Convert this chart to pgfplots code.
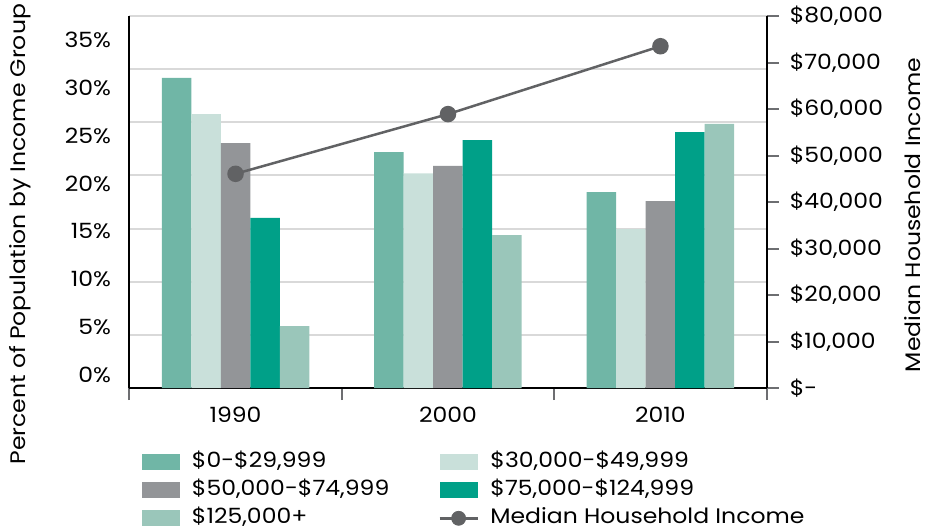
\documentclass[border=0pt]{standalone}
\usepackage{pgfplots}
\pgfplotsset{compat=1.18}
\usepackage{fontspec}
\setmainfont{Poppins}[FakeStretch=1.12]

\definecolor{cA}{HTML}{70B6A6}
\definecolor{cB}{HTML}{C9E0DA}
\definecolor{cC}{HTML}{939598}
\definecolor{cD}{HTML}{00A088}
\definecolor{cE}{HTML}{9AC6BA}
\definecolor{lineC}{HTML}{616264}
\definecolor{tickC}{HTML}{6D6E71}

\pgfplotsset{
  base/.style={width=318.7pt, height=186pt, scale only axis,
    xmin=-0.5, xmax=2.5, at={(0,0)}, anchor=south west},
  barleg/.style={legend image code/.code={\fill[##1] (0pt,-3.9pt) rectangle (19pt,3.9pt);}},
  lineleg/.style={legend image code/.code={%
    \draw[lineC, line width=1.25pt] (0pt,0pt) -- (19pt,0pt);
    \fill[lineC] (9.5pt,0pt) circle (3.5pt);}},
}

\begin{document}
\begin{tikzpicture}[font=\fontsize{10.5}{12}\selectfont]
\useasboundingbox (-64.65pt,-71.5pt) rectangle (399.35pt,194pt);

% bars, left axis (percent)
\begin{axis}[base,
  ymin=0, ymax=35,
  axis x line*=bottom, axis y line*=left,
  axis line style={black, line width=1pt},
  ybar=0pt, bar width=14.75pt,
  xtick={-0.5,0.5,1.5,2.5}, xticklabels={},
  tick align=outside, major tick length=6pt,
  xtick style={color=tickC, line width=1pt},
  extra x ticks={0,1,2}, extra x tick labels={1990,2000,2010},
  extra x tick style={major tick length=0pt},
  xticklabel style={yshift=-6pt},
  ytick={5,10,...,35}, yticklabels={},
  ytick style={draw=none},
  ymajorgrids, grid style={color=black!15, line width=1pt},
  extra y ticks={1.22,5.72,10.23,14.73,19.23,23.74,28.24,32.74},
  extra y tick labels={0\%,5\%,10\%,15\%,20\%,25\%,30\%,35\%},
  extra y tick style={grid=none, major tick length=0pt},
  yticklabel style={xshift=-5.6pt},
  legend columns=2,
  legend cell align=left,
  legend style={draw=none, fill=none, at={(0.0199,-0.161)}, anchor=north west,
    inner sep=0pt, row sep=0pt,
    nodes={inner sep=1.75pt, text height=8pt, text depth=2.5pt},
    /tikz/every odd column/.append style={column sep=4pt}},
]
\addplot[barleg, fill=cA, draw=none] coordinates {(0,29.17) (1,22.20) (2,18.44)};
\addlegendentry{\makebox[121.5pt][l]{\$0-\$29,999}}
\addplot[barleg, fill=cB, draw=none] coordinates {(0,25.78) (1,20.20) (2,14.96)};
\addlegendentry{\$30,000-\$49,999}
\addplot[barleg, fill=cC, draw=none] coordinates {(0,23.05) (1,20.89) (2,17.59)};
\addlegendentry{\makebox[121.5pt][l]{\$50,000-\$74,999}}
\addplot[barleg, fill=cD, draw=none] coordinates {(0,16.00) (1,23.33) (2,24.08)};
\addlegendentry{\$75,000-\$124,999}
\addplot[barleg, fill=cE, draw=none] coordinates {(0,5.83) (1,14.39) (2,24.84)};
\addlegendentry{\makebox[121.5pt][l]{\$125,000+}}
\addlegendimage{lineleg}
\addlegendentry{Median Household Income}
\end{axis}

% line, right axis (income)
\begin{axis}[base,
  ymin=0, ymax=80000,
  axis x line=none, axis y line*=right,
  axis line style={black, line width=1pt},
  scaled y ticks=false,
  ytick={0,10000,...,80000},
  yticklabels={{\$-},{\$10,000},{\$20,000},{\$30,000},{\$40,000},{\$50,000},{\$60,000},{\$70,000},{\$80,000}},
  tick align=outside, major tick length=6pt,
  ytick style={color=tickC, line width=1pt},
  yticklabel style={anchor=west, xshift=2pt},
]
\addplot[color=lineC, line width=1.25pt, mark=*, mark size=3.5pt]
  coordinates {(0,46060) (1,58900) (2,73500)};
\end{axis}

\node[rotate=90, anchor=west, inner sep=0pt] at (-54.65pt,-38.5pt) {Percent of Population by Income Group};
\node[rotate=90, inner sep=0pt] at (391.6pt,86.5pt) {Median Household Income};
\end{tikzpicture}
\end{document}
